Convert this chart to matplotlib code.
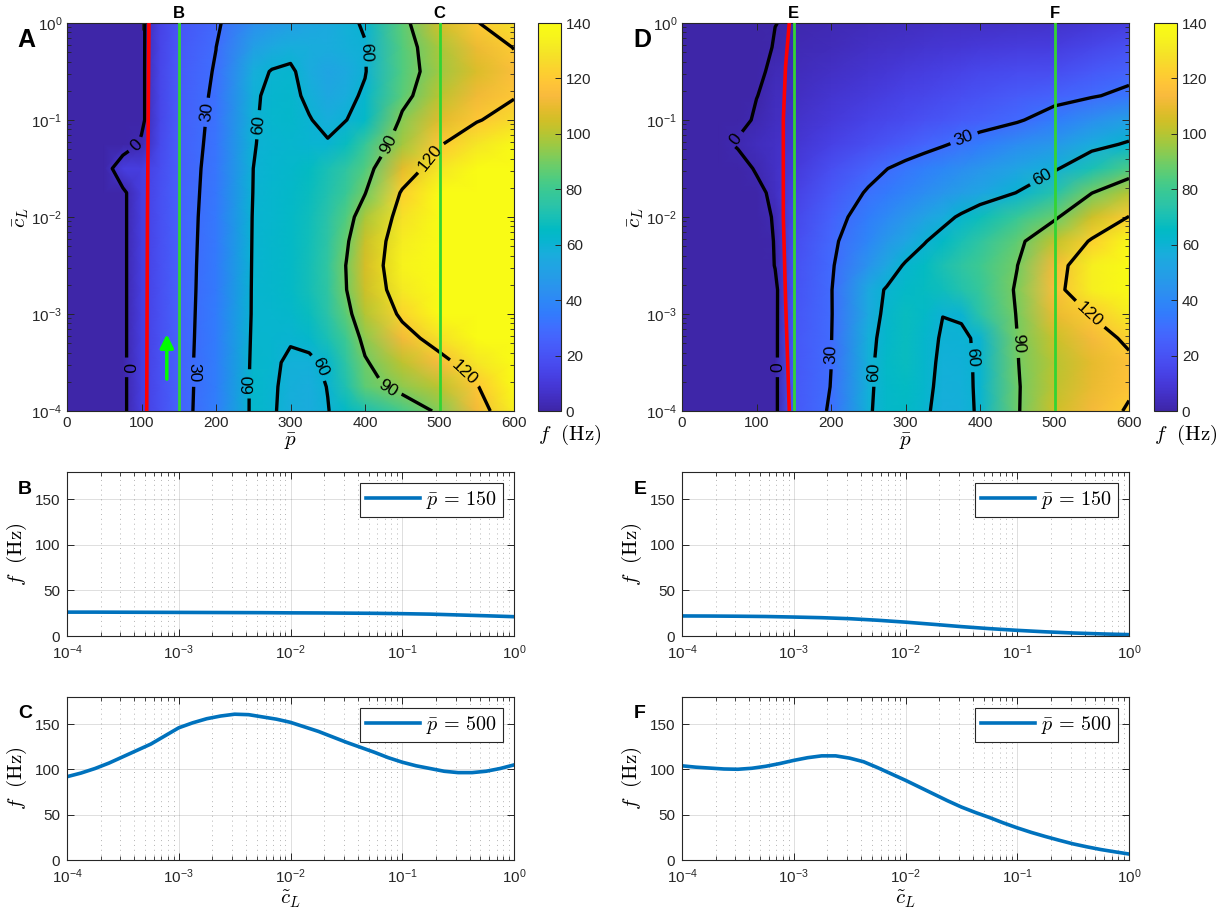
import numpy as np
import matplotlib
matplotlib.use("Agg")
import matplotlib.pyplot as plt
from matplotlib.colors import LinearSegmentedColormap
from matplotlib.ticker import FixedLocator, NullFormatter, LogLocator

plt.rcParams['font.family'] = ['Liberation Sans', 'DejaVu Sans']
plt.rcParams['mathtext.fontset'] = 'cm'

# ---------------- data ----------------
p_cols = [0, 50, 75, 100, 125, 150, 200, 250, 275, 300, 325, 350, 375, 400, 450, 500, 550, 600]
log_cL = [-4.0, -3.75, -3.5, -3.25, -3.0, -2.75, -2.5, -2.25, -2.0,
          -1.75, -1.5, -1.25, -1.0, -0.75, -0.5, -0.25, 0.0]

# slices (line panels): f in Hz
log_cL_BE = log_cL
fB = [26.2, 26.2, 26.1, 26.0, 25.9, 25.8, 25.7, 25.6, 25.4, 25.3, 25.1, 24.9, 24.5, 24.0, 23.1, 22.2, 21.2]
fE = [22, 21.9, 21.7, 21.4, 20.8, 20.1, 19.0, 17.3, 15.2, 12.8, 10.3, 8.1, 6.2, 4.6, 3.3, 2.3, 1.5]

log_cL_CF = [-4.0, -3.875, -3.75, -3.625, -3.5, -3.375, -3.25, -3.125, -3.0, -2.875, -2.75,
             -2.625, -2.5, -2.375, -2.25, -2.125, -2.0, -1.875, -1.75, -1.625, -1.5, -1.375,
             -1.25, -1.125, -1.0, -0.875, -0.75, -0.625, -0.5, -0.375, -0.25, -0.125, 0.0]
fC = [92, 96, 101, 107, 114, 121, 128, 137, 146, 151.5, 156, 159, 161, 160.5, 158, 155.5,
      152, 147, 142, 136, 130, 124.5, 119, 113, 108, 104, 101, 98, 96.5, 96.5, 98, 101, 105]
fF = [104, 102.5, 101.5, 100.5, 100.2, 101.3, 103.5, 106.5, 110, 113, 115, 115, 112.5, 108.5,
      102, 95, 88, 80.5, 73, 65.5, 58.5, 52.5, 47, 41, 35.5, 30.5, 26, 21.8, 17.8, 14.5, 11.5,
      9, 6.6]

# heatmap A: rows = log_cL, columns = p_cols (values < 0 : no oscillation)
fA_grid = [
    [-10, -10, -3, 12, 19, 26.2, 36.2, 63, 61, 57, 56, 59.6, 65, 70.6, 81.9, 92, 112.6, 133],
    [-10, -10, -3, 12, 19, 26.2, 35.7, 63, 61.2, 57.5, 56.5, 60.3, 72, 86, 93.8, 101, 118.9, 139],
    [-10, -10, -3, 12, 19, 26.1, 35.9, 62.5, 61.5, 58.5, 58, 62, 76, 88.6, 101.7, 114, 130, 140],
    [-10, -10, -3, 12, 19, 26.0, 35.5, 62, 61.5, 60.8, 63, 70, 80, 93.8, 112.5, 128, 140, 150],
    [-10, -10, -3, 12, 19, 25.9, 35.2, 61.5, 62, 63, 67, 74, 86, 99.7, 123.6, 146, 155, 160],
    [-10, -10, -3, 12, 19, 25.8, 34.9, 61.4, 62.5, 64, 69, 76, 89.8, 104.4, 131.3, 156, 163, 166],
    [-10, -10, -3, 12, 19, 25.7, 34.7, 61.2, 62.5, 64, 69, 76.5, 90.5, 106, 134.7, 161, 166, 168],
    [-10, -10, -3, 12, 19, 25.6, 34.4, 61, 62.5, 64, 68.5, 75, 88, 103.7, 132.7, 158, 163, 166],
    [-10, -10, -3, 12, 19, 25.4, 34.2, 60.8, 62.3, 64, 68, 74, 84, 98, 128, 152, 158, 162],
    [-10, -10, -3, 12, 19, 25.3, 33.7, 60.3, 62, 63.5, 67, 72, 79, 89.4, 122, 142, 150, 155],
    [-10, -9, 12, 12, 18, 25.1, 33.3, 60, 61.7, 63, 66, 70, 76, 84, 108.7, 130, 142, 150],
    [-10, -10, -10, 2, 16, 24.9, 32.6, 59.8, 61, 62, 61, 61, 67, 78, 97, 119, 130, 138],
    [-10, -10, -10, -3, 15, 24.5, 32.1, 59.2, 62, 63, 60.6, 57, 59.9, 64, 92.5, 108, 119, 126],
    [-10, -10, -10, -3, 15, 24.0, 31.5, 59, 61.5, 62.5, 58, 54, 56.5, 62, 85.7, 101, 112, 119],
    [-10, -10, -10, -3, 15, 23.1, 30.8, 57, 60.5, 61.5, 56, 52, 55, 59.2, 84, 96.5, 107, 115],
    [-10, -10, -10, -3, 14.5, 22.2, 29.9, 50, 55, 57, 56.5, 56, 57.5, 59.5, 84.5, 98, 111, 120.5],
    [-10, -10, -10, -3, 14, 21.2, 27.9, 43, 47, 50, 52.5, 55, 58, 61, 86, 105, 119.4, 128],
]

fD_grid = [
    [-10, -10, -10, -10, -3, 22, 31.1, 59, 63.5, 65, 61.5, 57, 57.8, 61, 89, 104, 112.7, 121.5],
    [-10, -10, -10, -10, -3, 21.9, 30.2, 58.5, 63.5, 66, 62.5, 57.5, 58.3, 61, 89, 101.5, 110, 118],
    [-10, -10, -10, -10, -3, 21.7, 29.9, 58, 64, 67, 62.5, 58.5, 58.8, 60.8, 89.6, 100.2, 109, 117],
    [-10, -10, -10, -10, -3, 21.4, 29.5, 57.5, 63, 67, 62.5, 59.3, 59.7, 60.3, 89.9, 103.5, 113, 123],
    [-10, -10, -10, -10, -3, 20.8, 29.2, 55, 62.5, 67, 64, 60.1, 60.2, 74, 90.7, 110, 120.8, 132],
    [-10, -10, -10, -10, -3, 20.1, 29.3, 55, 61, 64.5, 66.5, 68, 72.5, 78, 91.4, 115, 133, 140],
    [-10, -10, -10, -10, 0.5, 19.0, 28.6, 45, 54, 61.3, 66, 70.8, 75.5, 80.3, 89.8, 112.5, 133, 141],
    [-10, -10, -10, -10, 1, 17.3, 27.5, 39.8, 46.5, 52.8, 59.2, 64.8, 70.3, 75.8, 86.8, 102, 122, 138],
    [-10, -10, -10, -10, 2.5, 15.2, 25.3, 35.6, 40.7, 45.9, 51.1, 56.3, 61.8, 67.3, 78.6, 88, 104, 120.5],
    [-10, -10, -10, -5.4, 5, 12.8, 22.1, 31.2, 34.8, 38.4, 42, 45.7, 49.3, 53, 60.3, 73, 89.7, 100],
    [-10, -10, -8, 2, 6, 10.3, 18.2, 26.1, 29.8, 33.1, 36.2, 39.4, 42.5, 45.7, 52, 58.5, 70, 83],
    [-10, -5, 2, 4, 6, 8.1, 13.3, 18.5, 21.1, 23.7, 26.3, 29, 32, 35.2, 41.7, 47, 56, 61.5],
    [-10, -10, -5, 2, 4.5, 6.2, 9.9, 13.7, 15.5, 17.4, 19.3, 21.2, 23, 24.9, 28.7, 35.5, 43, 50],
    [-10, -10, -10, -0.3, 4, 4.6, 7.7, 10.7, 12.2, 13.8, 15.3, 16.8, 18.3, 19.9, 23, 26, 29, 33],
    [-10, -10, -10, -2.8, 3, 3.3, 5.5, 8, 9.2, 10.5, 11.7, 13, 14.2, 15.5, 17, 17.8, 22, 26],
    [-10, -10, -10, -5, 1, 2.3, 3.8, 5.5, 6.2, 7, 7.7, 8.5, 9.2, 10, 11, 11.5, 15, 19],
    [-10, -10, -10, -5, -0.2, 1.5, 2.5, 3.5, 4, 4.5, 5, 5.5, 5.8, 6, 6.3, 6.6, 9, 12],
]

contour_levels = [0, 30, 60, 90, 120]

# red boundary curves (p at given log10 cL)
redA_logc = [-4.0, -2.0, 0.0]
redA_p = [107, 108, 110]
redD_logc = [-4.0, -2.85, -2.0, -1.0, -0.45, 0.0]
redD_p = [144, 139, 136, 136, 139, 144]

# slice positions
slice_p = [150, 500]
sliceA_names = ['B', 'C']
sliceD_names = ['E', 'F']

# green arrow in panel A
arrowA_p = 134
arrowA_logc = [-3.7, -3.18]

# contour label anchor points (p, log10 cL)
labelsA = [(80, -3.55), (97, -1.3), (171, -3.6), (187, -0.92), (243, -3.72), (258, -1.05),
           (338, -3.55), (400, -0.3), (432, -1.25), (428, -3.82), (493, -1.42), (532, -3.62)]
labelsD = [(76, -1.22), (130, -3.55), (205, -3.42), (381, -1.24), (262, -3.6), (487, -1.63),
           (389, -3.45), (455, -3.3), (542, -3.05)]

# ---------------- colormap (parula) ----------------
parula_data = [
    [0.2422, 0.1504, 0.6603], [0.2578, 0.1818, 0.7511], [0.2706, 0.2147, 0.8364],
    [0.2783, 0.2559, 0.8991], [0.2813, 0.3006, 0.9414], [0.2795, 0.3447, 0.9717],
    [0.2699, 0.3892, 0.9906], [0.2440, 0.4358, 0.9988], [0.1963, 0.4847, 0.9892],
    [0.1786, 0.5289, 0.9682], [0.1687, 0.5703, 0.9359], [0.1460, 0.6091, 0.9079],
    [0.1248, 0.6459, 0.8883], [0.0952, 0.6798, 0.8598], [0.0297, 0.7082, 0.8163],
    [0.0067, 0.7312, 0.7660], [0.0964, 0.7500, 0.7120], [0.1717, 0.7670, 0.6554],
    [0.2161, 0.7843, 0.5923], [0.2906, 0.7973, 0.5188], [0.3909, 0.8029, 0.4354],
    [0.5044, 0.7993, 0.3480], [0.6174, 0.7876, 0.2612], [0.7242, 0.7698, 0.1910],
    [0.8203, 0.7498, 0.1535], [0.9035, 0.7330, 0.1774], [0.9728, 0.7298, 0.2394],
    [0.9970, 0.7659, 0.2199], [0.9892, 0.8136, 0.1885], [0.9676, 0.8639, 0.1643],
    [0.9597, 0.9135, 0.1423], [0.9691, 0.9606, 0.1064], [0.9769, 0.9839, 0.0805]]
parula = LinearSegmentedColormap.from_list('parula', parula_data, N=256)

AXC = '#262626'
LINE_BLUE = '#0072BD'
GREEN = '#33d433'

W, H = 1228, 916


def rect(l, r, t, b):
    return [l / W, 1 - b / H, (r - l) / W, (b - t) / H]


fig = plt.figure(figsize=(W / 100, H / 100), dpi=100)

P, L = np.meshgrid(p_cols, log_cL)
ytick_pos = [-4, -3, -2, -1, 0]
ytick_lab = [r'$\mathdefault{10^{%d}}$' % k for k in ytick_pos]
yminor = [np.log10(m) + k for k in range(-4, 0) for m in range(2, 10)]


def heatmap(ax, cax, grid, red_p, red_logc, labels, names):
    Z = np.array(grid, dtype=float)
    mesh = ax.pcolormesh(P, L, Z, shading='gouraud', cmap=parula, vmin=0, vmax=140,
                         rasterized=True, zorder=1)
    cs = ax.contour(P, L, Z, levels=contour_levels, colors='k', linewidths=2.4, zorder=2)
    ax.clabel(cs, inline=True, fmt='%d', fontsize=12.5, manual=labels, inline_spacing=5)
    ax.plot(red_p, red_logc, color='#ff0000', lw=2.6, zorder=4, solid_capstyle='butt')
    for p, nm in zip(slice_p, names):
        ax.axvline(p, color=GREEN, lw=2.0, zorder=3)
        ax.text(p, 1.005, nm, transform=ax.get_xaxis_transform(), ha='center', va='bottom',
                fontsize=12, fontweight='bold', color='k')
    ax.set_xlim(0, 600)
    ax.set_ylim(-4, 0)
    ax.set_xticks(range(0, 601, 100))
    ax.set_yticks(ytick_pos)
    ax.set_yticklabels(ytick_lab)
    ax.yaxis.set_minor_locator(FixedLocator(yminor))
    ax.tick_params(which='both', direction='in', top=True, right=True, colors=AXC,
                   labelsize=11, labelcolor=AXC)
    ax.tick_params(which='major', length=5, width=0.7)
    ax.tick_params(which='minor', length=3, width=0.6)
    for s in ax.spines.values():
        s.set_color(AXC)
        s.set_linewidth(0.8)
    ax.set_xlabel(r'$\bar{p}$', fontsize=15, labelpad=1)
    ax.set_ylabel(r'$\bar{c}_L$', fontsize=15, labelpad=0)
    cb = fig.colorbar(mesh, cax=cax, ticks=range(0, 141, 20))
    cb.outline.set_edgecolor(AXC)
    cb.outline.set_linewidth(0.8)
    cax.tick_params(direction='in', length=4, width=0.7, colors=AXC, labelsize=11,
                    labelcolor=AXC)
    cax.text(0.0, -0.03, r'$f\ \ (\mathrm{Hz})$', transform=cax.transAxes, ha='left',
             va='top', fontsize=15)


axA = fig.add_axes(rect(67, 514, 23, 411))
caxA = fig.add_axes(rect(538, 561, 23, 411))
heatmap(axA, caxA, fA_grid, redA_p, redA_logc, labelsA, sliceA_names)
axA.annotate('', xy=(arrowA_p, arrowA_logc[1]), xytext=(arrowA_p, arrowA_logc[0]),
             arrowprops=dict(arrowstyle='-|>', color='#00ff00', lw=2.5, mutation_scale=20),
             zorder=5)

axD = fig.add_axes(rect(682, 1129, 23, 411))
caxD = fig.add_axes(rect(1154, 1177, 23, 411))
heatmap(axD, caxD, fD_grid, redD_p, redD_logc, labelsD, sliceD_names)


def lineplot(ax, logx, f, pval):
    ln, = ax.plot(10.0 ** np.array(logx), f, color=LINE_BLUE, lw=2.6)
    ax.set_xscale('log')
    ax.set_xlim(1e-4, 1)
    ax.set_ylim(0, 180)
    ax.set_yticks([0, 50, 100, 150])
    ax.xaxis.set_major_locator(LogLocator(base=10, numticks=10))
    ax.xaxis.set_minor_locator(LogLocator(base=10, subs=np.arange(2, 10), numticks=10))
    ax.xaxis.set_minor_formatter(NullFormatter())
    ax.grid(True, which='major', color=AXC, alpha=0.15, lw=0.7)
    ax.grid(True, which='minor', axis='x', color=AXC, alpha=0.35, lw=0.7,
            linestyle=(0, (1, 4)))
    ax.set_axisbelow(True)
    ax.tick_params(which='both', direction='in', top=True, right=True, colors=AXC,
                   labelsize=11, labelcolor=AXC)
    ax.tick_params(which='major', length=5, width=0.7, pad=5)
    ax.tick_params(which='minor', length=3, width=0.6)
    for s in ax.spines.values():
        s.set_color(AXC)
        s.set_linewidth(0.8)
    ax.set_ylabel(r'$f\ \ (\mathrm{Hz})$', fontsize=15, labelpad=4)
    leg = ax.legend([ln], [r'$\bar{p}\,=\,%d$' % pval], loc='upper right', fontsize=14.5,
                    frameon=True, fancybox=False, edgecolor=AXC, framealpha=1,
                    handlelength=2.7, borderaxespad=0.55, borderpad=0.3, handletextpad=0.3)
    leg.get_frame().set_linewidth(0.8)


axB = fig.add_axes(rect(67, 514, 472, 636))
lineplot(axB, log_cL_BE, fB, slice_p[0])
axC = fig.add_axes(rect(67, 514, 697, 860))
lineplot(axC, log_cL_CF, fC, slice_p[1])
axC.set_xlabel(r'$\tilde{c}_L$', fontsize=15, labelpad=2)
axE = fig.add_axes(rect(682, 1129, 472, 636))
lineplot(axE, log_cL_BE, fE, slice_p[0])
axF = fig.add_axes(rect(682, 1129, 697, 860))
lineplot(axF, log_cL_CF, fF, slice_p[1])
axF.set_xlabel(r'$\tilde{c}_L$', fontsize=15, labelpad=2)

# panel letters
for txt, x, y, fs in [('A', 26, 40, 18), ('D', 642, 40, 18),
                      ('B', 25, 490, 14), ('C', 25, 714, 14),
                      ('E', 640, 490, 14), ('F', 640, 714, 14)]:
    fig.text(x / W, 1 - y / H, txt, fontsize=fs, fontweight='bold', ha='center', va='center')

fig.savefig('out.png', dpi=100)
